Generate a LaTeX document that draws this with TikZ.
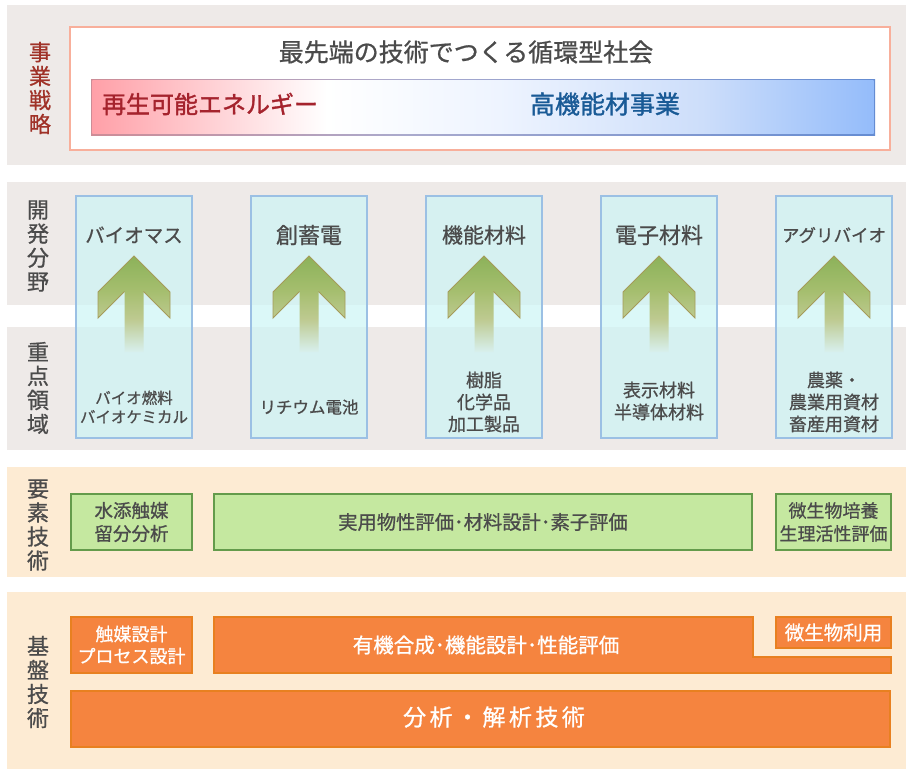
\documentclass[tikz,border=0pt]{standalone}
\usepackage{fontspec}
\setmainfont{Noto Sans CJK JP}[FakeBold=0.8]
\definecolor{bandgray}{RGB}{238,234,232}
\definecolor{peach}{RGB}{253,235,211}
\definecolor{txtgray}{RGB}{75,75,75}
\definecolor{labred}{RGB}{160,50,40}
\definecolor{renred}{RGB}{165,35,45}
\definecolor{matblue}{RGB}{25,90,150}
\definecolor{salmon}{RGB}{248,175,155}
\definecolor{colfill}{RGB}{205,245,245}
\definecolor{colline}{RGB}{155,192,228}
\definecolor{gfill}{RGB}{197,232,160}
\definecolor{gline}{RGB}{100,155,75}
\definecolor{ofill}{RGB}{245,132,63}
\definecolor{oline}{RGB}{232,128,32}
\definecolor{ahead}{RGB}{165,155,90}
\definecolor{barL}{RGB}{255,160,168}
\definecolor{barM}{RGB}{238,244,255}
\definecolor{barN}{RGB}{205,222,250}
\definecolor{barR}{RGB}{148,188,250}
\definecolor{bbL}{RGB}{205,140,150}
\definecolor{bbM}{RGB}{170,170,205}
\definecolor{bbR}{RGB}{100,140,210}
\definecolor{arT}{RGB}{140,178,90}
\definecolor{arA}{RGB}{165,190,110}
\definecolor{arB}{RGB}{190,202,145}
\definecolor{arZ}{RGB}{216,240,238}
\pgfdeclarehorizontalshading{barshade}{100bp}{color(0bp)=(barL); color(25bp)=(barL); color(40bp)=(white); color(51bp)=(barM); color(64bp)=(barN); color(75bp)=(barR); color(100bp)=(barR)}
\pgfdeclarehorizontalshading{barborder}{100bp}{color(0bp)=(bbL); color(25bp)=(bbL); color(45bp)=(bbM); color(75bp)=(bbR); color(100bp)=(bbR)}
\pgfdeclareverticalshading{arrowshade}{100bp}{color(0bp)=(arZ); color(25bp)=(arZ); color(42bp)=(arB); color(57bp)=(arA); color(75bp)=(arT); color(100bp)=(arT)}
\begin{document}
\begin{tikzpicture}[x=1pt,y=-1pt,
  vlab/.style={align=center, inner sep=0pt, text=txtgray, font=\fontsize{22pt}{24pt}\selectfont},
  colbox/.style={draw=colline, line width=1.2pt, fill=colfill, fill opacity=0.72, minimum width=116pt, minimum height=242pt, inner sep=0pt},
  ctext/.style={text=txtgray, inner sep=0pt, align=center},
  gbox/.style={draw=gline, fill=gfill, line width=1.2pt, minimum height=56pt, inner sep=0pt, align=center, text=txtgray},
  obox/.style={draw=oline, fill=ofill, line width=1.2pt, inner sep=0pt, align=center, text=white},
  wtext/.style={text=white, inner sep=0pt, align=center}
]
\useasboundingbox (0,0) rectangle (906,769);
% bands
\fill[bandgray] (7,5) rectangle (906,165);
\fill[bandgray] (7,182) rectangle (906,305);
\fill[bandgray] (7,327) rectangle (906,450);
\fill[peach] (7,467) rectangle (906,577);
\fill[peach] (7,592) rectangle (906,769);

% top strategy box
\node[draw=salmon, fill=white, line width=1.5pt, minimum width=820pt, minimum height=123pt, inner sep=0pt] (wbox) at (480,88.5) {};
\node[text=txtgray, inner sep=0pt, font=\fontsize{25pt}{28pt}\selectfont] (title) at (466,52) {最先端の技術でつくる循環型社会};
\shade[shading=barborder] (91,79) rectangle (875,135);
\shade[shading=barshade] (92.3,80.3) rectangle (873.7,133.7);
\node[text=renred, inner sep=0pt, font=\fontsize{24pt}{28pt}\selectfont\addfontfeatures{FakeBold=1.4}] (ren) at (210,104) {再生可能エネルギー};
\node[text=matblue, inner sep=0pt, font=\fontsize{25pt}{28pt}\selectfont\addfontfeatures{FakeBold=1.4}] (mat) at (605,104) {高機能材事業};

% left labels
\node[vlab, text=labred] (l1) at (40,88) {事\\業\\戦\\略};
\node[vlab] (l2) at (38,246) {開\\発\\分\\野};
\node[vlab] (l3) at (38,388) {重\\点\\領\\域};
\node[vlab] (l4) at (38,525) {要\\素\\技\\術};
\node[vlab] (l5) at (38,682) {基\\盤\\技\\術};

% columns with arrows
\foreach \c [count=\i] in {134,309,484,659,834}{
  \node[colbox] (col\i) at (\c,317) {};
  \shade[shading=arrowshade] (\c,256) -- (\c+36,292) -- (\c+36,318) -- (\c+9.5,291.5) -- (\c+9.5,352) -- (\c-9.5,352) -- (\c-9.5,291.5) -- (\c-36,318) -- (\c-36,292) -- cycle;
  \draw[ahead, line width=0.9pt, line join=miter] (\c-9.5,291.5) -- (\c-36,318) -- (\c-36,292) -- (\c,256) -- (\c+36,292) -- (\c+36,318) -- (\c+9.5,291.5);
}

% column titles
\node[ctext, font=\fontsize{19.5pt}{22pt}\selectfont] (t1) at (134,235) {バイオマス};
\node[ctext, font=\fontsize{22pt}{24pt}\selectfont] (t2) at (309,235) {創蓄電};
\node[ctext, font=\fontsize{21pt}{24pt}\selectfont] (t3) at (484,235) {機能材料};
\node[ctext, font=\fontsize{22pt}{24pt}\selectfont] (t4) at (659,235) {電子材料};
\node[ctext, font=\fontsize{17.5pt}{22pt}\selectfont] (t5) at (834,235) {アグリバイオ};

% column sub texts
\node[ctext, font=\fontsize{15.5pt}{19pt}\selectfont] (s1) at (134,407) {バイオ燃料\\バイオケミカル};
\node[ctext, font=\fontsize{16.5pt}{19pt}\selectfont] (s2) at (309,407) {リチウム電池};
\node[ctext, font=\fontsize{18pt}{22pt}\selectfont] (s3) at (484,402) {樹脂\\化学品\\加工製品};
\node[ctext, font=\fontsize{18pt}{22pt}\selectfont] (s4) at (659,401) {表示材料\\半導体材料};
\node[ctext, font=\fontsize{18pt}{22pt}\selectfont] (s5) at (834,402) {農薬・\\農業用資材\\畜産用資材};

% element technologies (green)
\node[gbox, minimum width=121pt, font=\fontsize{18.5pt}{23pt}\selectfont] (g1) at (131.5,522) {水添触媒\\留分分析};
\node[gbox, minimum width=538pt, font=\fontsize{19.3pt}{23pt}\selectfont] (g2) at (483,522) {実用物性評価･材料設計･素子評価};
\node[gbox, minimum width=115pt, font=\fontsize{18pt}{23pt}\selectfont] (g3) at (833.5,522) {微生物培養\\生理活性評価};

% base technologies (orange)
\node[obox, minimum width=121pt, minimum height=56pt, font=\fontsize{18pt}{22pt}\selectfont] (o1) at (131.5,645) {触媒設計\\プロセス設計};
\filldraw[fill=ofill, draw=oline, line width=1.2pt] (214,617) -- (753,617) -- (753,657) -- (891,657) -- (891,673) -- (214,673) -- cycle;
\node[wtext, font=\fontsize{20.5pt}{22pt}\selectfont] (o2) at (486,645) {有機合成･機能設計･性能評価};
\node[obox, minimum width=115pt, minimum height=31pt, font=\fontsize{19.5pt}{22pt}\selectfont] (o3) at (833.5,632.5) {微生物利用};
\node[obox, minimum width=819pt, minimum height=56pt] (o4) at (480.5,719) {};
\node[wtext, font=\fontsize{23pt}{26pt}\selectfont\addfontfeatures{LetterSpace=15}] (o4t) at (494,717) {分析・解析技術};
\end{tikzpicture}
\end{document}
